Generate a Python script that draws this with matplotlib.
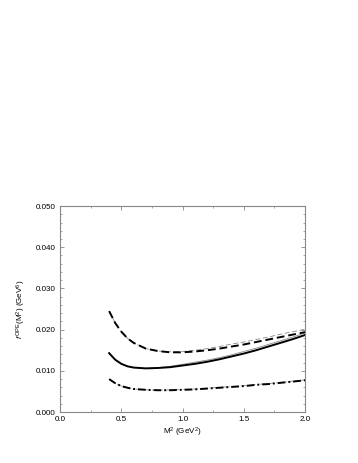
import matplotlib
matplotlib.use("Agg")
import matplotlib.pyplot as plt
from matplotlib.ticker import MultipleLocator, FormatStrFormatter

plt.rcParams['font.family'] = ['Liberation Sans', 'DejaVu Sans']
plt.rcParams['mathtext.fontset'] = 'custom'
plt.rcParams['mathtext.rm'] = 'Liberation Sans'
plt.rcParams['mathtext.it'] = 'Liberation Sans:italic'

# data
x_main = [0.40, 0.45, 0.50, 0.55, 0.60, 0.70, 0.80, 0.90, 1.00, 1.10, 1.20, 1.30, 1.40, 1.50, 1.60, 1.70, 1.80, 1.90, 2.00]
dashed = [0.0245, 0.0216, 0.0195, 0.0179, 0.0168, 0.0154, 0.0148, 0.0145, 0.0145, 0.0147, 0.0150, 0.0154, 0.0159, 0.0164, 0.0170, 0.0176, 0.0182, 0.0188, 0.0194]
dashed_thin = [0.0245, 0.0216, 0.0195, 0.0179, 0.0168, 0.0154, 0.0148, 0.0146, 0.0147, 0.0150, 0.0154, 0.0159, 0.0165, 0.0170, 0.0176, 0.0182, 0.0189, 0.0195, 0.0201]
solid = [0.0143, 0.0127, 0.0117, 0.0111, 0.0108, 0.0106, 0.0107, 0.0109, 0.0113, 0.0117, 0.0122, 0.0128, 0.0135, 0.0142, 0.0150, 0.0159, 0.0168, 0.0177, 0.0187]
solid_thin = [0.0143, 0.0127, 0.0117, 0.0111, 0.0108, 0.0106, 0.0108, 0.0111, 0.0116, 0.0121, 0.0126, 0.0132, 0.0139, 0.0147, 0.0155, 0.0164, 0.0173, 0.0182, 0.0192]
dashdot = [0.0080, 0.0070, 0.0063, 0.0059, 0.0056, 0.0054, 0.0053, 0.0053, 0.0054, 0.0055, 0.0057, 0.0059, 0.0061, 0.0063, 0.0066, 0.0068, 0.0071, 0.0074, 0.0077]
dashdot_thin = [0.0080, 0.0070, 0.0063, 0.0059, 0.0056, 0.0054, 0.0053, 0.0054, 0.0055, 0.0056, 0.0058, 0.0060, 0.0062, 0.0064, 0.0067, 0.0069, 0.0072, 0.0075, 0.0078]

x_ticks = [0.0, 0.5, 1.0, 1.5, 2.0]
y_ticks = [0.000, 0.010, 0.020, 0.030, 0.040, 0.050]

fig = plt.figure(figsize=(3.58, 4.63), dpi=100)
ax = fig.add_axes([0.168, 0.110, 0.684, 0.445])

ax.plot(x_main, dashed_thin, color='#888888', lw=0.6, ls=(0, (6, 3)))
ax.plot(x_main, solid_thin, color='#888888', lw=0.6, ls='-')
ax.plot(x_main, dashdot_thin, color='#888888', lw=0.6, ls=(0, (6, 2, 1.5, 2)))
ax.plot(x_main, dashed, color='black', lw=1.4, ls=(0, (4, 2)))
ax.plot(x_main, solid, color='black', lw=1.4, ls='-')
ax.plot(x_main, dashdot, color='black', lw=1.4, ls=(0, (4, 1.5, 1, 1.5)))

ax.set_xlim(0.0, 2.0)
ax.set_ylim(0.0, 0.05)
ax.set_xticks(x_ticks)
ax.set_yticks(y_ticks)
ax.xaxis.set_major_formatter(FormatStrFormatter('%.1f'))
ax.yaxis.set_major_formatter(FormatStrFormatter('%.3f'))
ax.xaxis.set_minor_locator(MultipleLocator(0.25))
ax.yaxis.set_minor_locator(MultipleLocator(0.002))
ax.tick_params(which='both', direction='in', top=True, right=True,
               color='#888888', labelsize=5.8, pad=3)
ax.tick_params(which='major', length=3, width=0.6)
ax.tick_params(which='minor', length=1.6, width=0.5)
for s in ax.spines.values():
    s.set_color('#888888')
    s.set_linewidth(0.8)

ax.set_xlabel(r'M$^2$ (GeV$^2$)', fontsize=5.8, labelpad=2)
ax.set_ylabel(r'$f^{\,\mathrm{OPE}}$(M$^2$) (GeV$^6$)', fontsize=5.8, labelpad=6)

fig.savefig('out.png', dpi=100)
